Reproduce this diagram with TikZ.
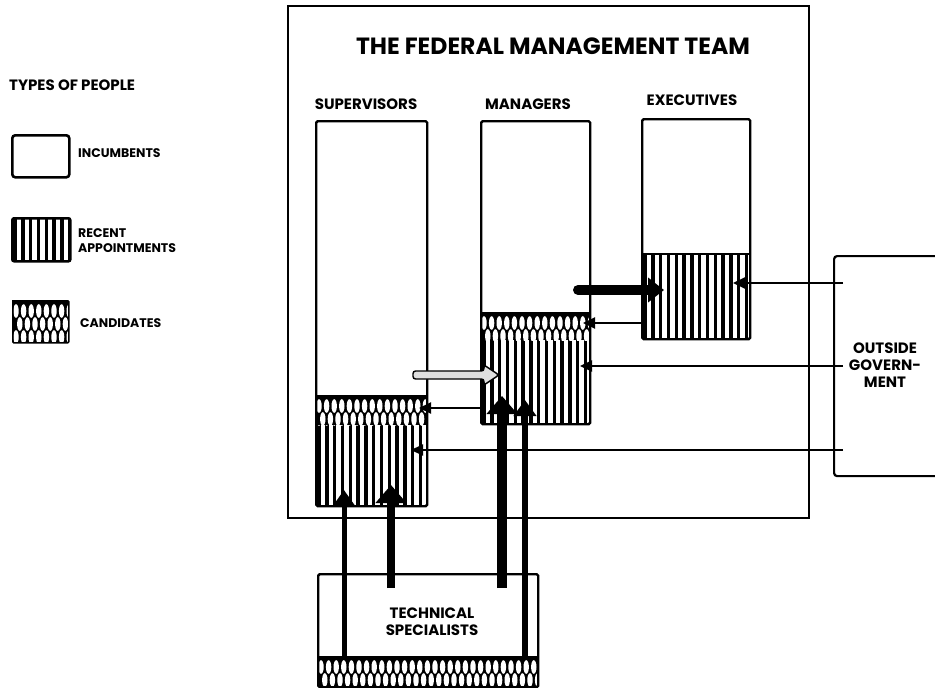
\documentclass[tikz,border=0pt]{standalone}
\usepackage{fontspec}
\setmainfont{Poppins}
\usetikzlibrary{arrows.meta}

% vertical stripes (recent appointments) inside the box (#1,#2)-(#3,#4)
\newcommand\recentfill[4]{%
  \begin{scope}
    \clip (#1,#2) rectangle (#3,#4);
    \foreach \i in {0,...,30}{
      \draw[line width=3.4pt] ({#1+4+\i*7.8},#2) -- ({#1+4+\i*7.8},#4);
    }
  \end{scope}}

% white lenses on black (candidates) inside the box (#1,#2)-(#3,#4)
\newcommand\candfill[4]{%
  \begin{scope}
    \clip (#1,#2) rectangle (#3,#4);
    \fill (#1,#2) rectangle (#3,#4);
    \foreach \r in {0,...,3}{
      \foreach \i in {0,...,30}{
        \fill[white] ({#1+4+\i*7.6+mod(\r,2)*3.8},{#2+11+\r*13})
          ellipse [x radius=2.7pt, y radius=6.8pt];
      }
    }
  \end{scope}}

\begin{document}
\begin{tikzpicture}[x=1pt,y=-1pt,
  col/.style={draw, line width=2.4pt, rounded corners=1.5pt, inner sep=0pt, anchor=north west},
  frame/.style={draw, line width=1.6pt, inner sep=0pt, anchor=north west},
  lbl/.style={font=\bfseries\fontsize{15}{17}\selectfont, inner sep=0pt},
  small/.style={font=\bfseries\fontsize{12.5}{15}\selectfont, inner sep=0pt, anchor=west},
  thin/.style={line width=2pt, -{Triangle[length=12pt,width=11pt]}},
  heavy/.style={line width=#1, line cap=round, -{Triangle[length=16pt,width=24pt]}},
]
\useasboundingbox (0,0) rectangle (935,688);

% ---- legend ----
\node[lbl, anchor=west] (types) at (9,85) {TYPES OF PEOPLE};
\node[col, line width=2.6pt, rounded corners=3pt, minimum width=57pt, minimum height=42pt] (incbox) at (11,134) {};
\node[small] (inclbl) at (78,153) {INCUMBENTS};
\recentfill{11}{217}{69}{260}
\node[col, line width=2.6pt, rounded corners=2pt, minimum width=58pt, minimum height=43pt] (recbox) at (11,217) {};
\node[small, align=left] (reclbl) at (78,241) {RECENT\\APPOINTMENTS};
\candfill{12}{300}{68}{342}
\node[col, line width=1.6pt, rounded corners=1pt, minimum width=56pt, minimum height=42pt] (candbox) at (12,300) {};
\node[small] (candlbl) at (80,323) {CANDIDATES};

% ---- the team frame ----
\node[frame, minimum width=521pt, minimum height=512pt] (team) at (287,5) {};
\node[font=\bfseries\fontsize{23.5}{27}\selectfont, inner sep=0pt] (title) at (553,46) {THE FEDERAL MANAGEMENT TEAM};

% supervisors
\recentfill{315}{425}{426}{505}
\candfill{315}{395}{426}{425}
\node[col, minimum width=111pt, minimum height=385pt] (sup) at (315,120) {};
\node[lbl] (suplbl) at (366,104) {SUPERVISORS};

% managers
\recentfill{480}{340}{589}{423}
\candfill{480}{312}{589}{340}
\node[col, minimum width=109pt, minimum height=303pt] (man) at (480,120) {};
\node[lbl] (manlbl) at (528,104) {MANAGERS};

% executives
\recentfill{641}{254}{749}{338}
\node[col, minimum width=108pt, minimum height=220pt] (exe) at (641,118) {};
\draw[line width=2.4pt] (exe.west |- 0,254) -- (exe.east |- 0,254);
\node[lbl] (exelbl) at (692,100) {EXECUTIVES};

% outside government
\node[col, line width=2.2pt, rounded corners=3pt, minimum width=130pt, minimum height=220pt] (out) at (833,255) {};
\node[lbl, align=center] (outlbl) at (885,365) {OUTSIDE\\GOVERN-\\MENT};

% technical specialists
\candfill{317}{656}{537}{686}
\node[col, minimum width=220pt, minimum height=113pt] (tech) at (317,573) {};
\node[lbl, align=center] (techlbl) at (432,622) {TECHNICAL\\SPECIALISTS};

% ---- flows ----
\coordinate (o1) at (843,283);  \coordinate (e1) at (733,283);
\coordinate (o2) at (843,366);  \coordinate (m1) at (580,366);
\coordinate (o3) at (843,450);  \coordinate (s1) at (411,450);
\draw[thin] (o1) -- (e1);
\draw[thin] (o2) -- (m1);
\draw[thin] (o3) -- (s1);

\coordinate (mx) at (578,290);  \coordinate (ex) at (664,290);
\draw[heavy=10pt] (mx) -- (ex);
\draw[thin] (exe.west |- 0,323) -- (583,323);
\draw[thin] (man.west |- 0,408) -- (419,408);

% promotion of supervisors into managers
\coordinate (gs) at (413,375);
\coordinate (gt) at (499,375);
\draw[line width=1.4pt, fill=gray!25, rounded corners=2.5pt]
  (gs |- 0,371) -- (484,371) -- (484,365) -- (gt) -- (484,385) -- (484,379) -- (gs |- 0,379) -- cycle;

% from the technical specialists
\coordinate (t1) at (344,656);  \coordinate (u1) at (344,490);
\coordinate (t2) at (391,588);  \coordinate (u2) at (391,485);
\coordinate (t3) at (502,588);  \coordinate (u3) at (502,396);
\coordinate (t4) at (525,656);  \coordinate (u4) at (525,400);
\draw[line width=5pt, -{Triangle[length=15pt,width=20pt]}] (t1) -- (u1);
\draw[line width=8pt, -{Triangle[length=18pt,width=30pt]}] (t2) -- (u2);
\draw[line width=10pt, -{Triangle[length=18pt,width=30pt]}] (t3) -- (u3);
\draw[line width=6pt, -{Triangle[length=16pt,width=22pt]}] (t4) -- (u4);
\end{tikzpicture}
\end{document}
